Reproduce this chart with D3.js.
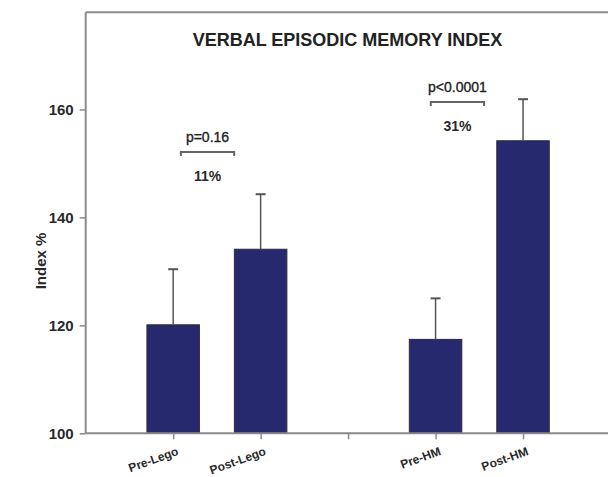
<!DOCTYPE html>
<html><head><meta charset="utf-8">
<script src="https://cdn.jsdelivr.net/npm/d3@7"></script>
<style>html,body{margin:0;padding:0;background:#fff;}svg{display:block;}</style>
</head><body>
<script>
// ---- data ----
const slots = ["Pre-Lego", "Post-Lego", "", "Pre-HM", "Post-HM"];
const barLabels = ["Pre-Lego", "Post-Lego", "Pre-HM", "Post-HM"];
const barValues = [120.1, 134.1, 117.4, 154.2];
const barErrors = [10.3, 10.2, 7.6, 7.7];
const yTicks = [100, 120, 140, 160];
const compFrom = ["Pre-Lego", "Pre-HM"];
const compLevel = [152.1, 161.4];
const compP = ["p=0.16", "p<0.0001"];
const compPct = ["11%", "31%"];
const title = "VERBAL EPISODIC MEMORY INDEX";
const yTitle = "Index %";

// ---- layout ----
const W = 608, H = 477;
const pLeft = 85.7, pRight = 610.5, pTop = 12.3, pBottom = 433.3;
const bracketOffsets = [[7.7, 61], [-4.8, 48.5]];
const font = "Liberation Sans, Arial, sans-serif";

const svg = d3.select("body").append("svg").attr("width", W).attr("height", H);

const x = d3.scalePoint().domain(slots).range([pLeft, pRight]).padding(1);
const y = d3.scaleLinear().domain([100, 178]).range([pBottom, pTop]);
const bw = x.step() * 0.6;
const grey = "#8a8a8a";

// frame top line
svg.append("line").attr("x1", pLeft).attr("x2", W).attr("y1", pTop).attr("y2", pTop)
  .attr("stroke", grey).attr("stroke-width", 2);

// bars
const bars = barLabels.map((c, i) => ({c, v: barValues[i], e: barErrors[i]}));
svg.selectAll("rect.bar").data(bars).join("rect").attr("class", "bar")
  .attr("x", d => x(d.c) - bw / 2).attr("width", bw)
  .attr("y", d => y(d.v)).attr("height", d => y(100) - y(d.v))
  .attr("fill", "#27296f").attr("stroke", "#2a2a3a").attr("stroke-width", 1);

// error bars
const eg = svg.selectAll("g.err").data(bars).join("g").attr("class", "err");
eg.append("line").attr("x1", d => x(d.c)).attr("x2", d => x(d.c))
  .attr("y1", d => y(d.v)).attr("y2", d => y(d.v + d.e))
  .attr("stroke", "#555").attr("stroke-width", 1.5);
eg.append("line").attr("x1", d => x(d.c) - 5).attr("x2", d => x(d.c) + 5)
  .attr("y1", d => y(d.v + d.e)).attr("y2", d => y(d.v + d.e))
  .attr("stroke", "#555").attr("stroke-width", 2);

// y axis
const yAxis = svg.append("g").attr("transform", `translate(${pLeft},0)`)
  .call(d3.axisLeft(y).tickValues(yTicks).tickSize(6).tickPadding(6).tickFormat(d3.format("d")));
yAxis.select(".domain").attr("d", `M0,${pTop}V${pBottom}`).attr("stroke", grey).attr("stroke-width", 2);
yAxis.selectAll(".tick line").attr("stroke", grey).attr("stroke-width", 1.5);
yAxis.selectAll(".tick text").attr("font-family", font)
  .attr("font-size", 15).attr("font-weight", "bold").attr("fill", "#2a2a2a");

// x axis
const xAxis = svg.append("g").attr("transform", `translate(0,${pBottom})`)
  .call(d3.axisBottom(x).tickSize(6).tickFormat(""));
xAxis.select(".domain").attr("d", `M${pLeft},0H${W}`).attr("stroke", grey).attr("stroke-width", 2);
xAxis.selectAll(".tick line").attr("stroke", grey).attr("stroke-width", 1.5);
svg.append("g").selectAll("text").data(barLabels).join("text")
  .attr("transform", d => `translate(${x(d) + 3},446) rotate(-20)`)
  .attr("dy", "0.75em").attr("text-anchor", "end")
  .attr("font-family", font)
  .attr("font-size", 12).attr("font-weight", "bold").attr("fill", "#2a2a2a")
  .text(d => d);

// title
svg.append("text").attr("x", 347.5).attr("y", 45.7).attr("text-anchor", "middle")
  .attr("font-family", font)
  .attr("font-size", 18).attr("font-weight", "bold").attr("fill", "#222").text(title);

// y title
svg.append("text").attr("transform", "translate(46,261) rotate(-90)").attr("text-anchor", "middle")
  .attr("font-family", font)
  .attr("font-size", 15).attr("font-weight", "bold").attr("fill", "#2a2a2a").text(yTitle);

// comparison brackets
compFrom.forEach((c, i) => {
  const x0 = x(c) + bracketOffsets[i][0], x1 = x(c) + bracketOffsets[i][1];
  const by = y(compLevel[i]);
  svg.append("path").attr("d", `M${x0},${by + 4}V${by}H${x1}V${by + 4}`)
    .attr("fill", "none").attr("stroke", "#666").attr("stroke-width", 2);
  const cx = (x0 + x1) / 2;
  svg.append("text").attr("x", cx).attr("y", by - 10).attr("text-anchor", "middle")
    .attr("font-family", font)
    .attr("font-size", 14).attr("fill", "#222")
    .attr("stroke", "#222").attr("stroke-width", 0.35).text(compP[i]);
  svg.append("text").attr("x", cx).attr("y", by + 29).attr("text-anchor", "middle")
    .attr("font-family", font)
    .attr("font-size", 14).attr("font-weight", "bold").attr("fill", "#2a2a2a").text(compPct[i]);
});
</script>
</body></html>
